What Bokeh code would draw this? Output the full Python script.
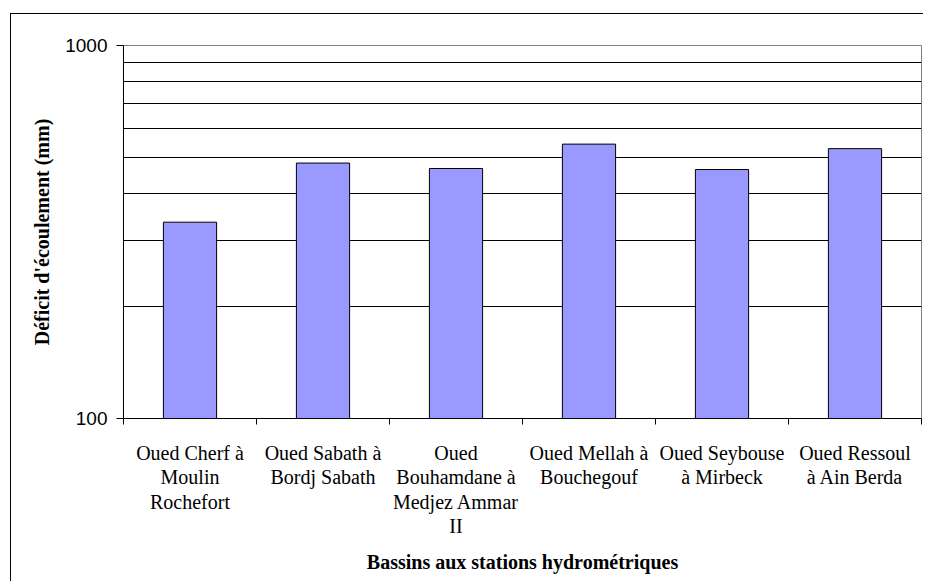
from bokeh.plotting import figure
from bokeh.models import (Range1d, FixedTicker, PrintfTickFormatter,
                          ColumnDataSource)
from bokeh.embed import file_html
from bokeh.resources import INLINE

categories = [
    "Oued Cherf à\nMoulin\nRochefort",
    "Oued Sabath à\nBordj Sabath",
    "Oued\nBouhamdane à\nMedjez Ammar\nII",
    "Oued Mellah à\nBouchegouf",
    "Oued Seybouse\nà Mirbeck",
    "Oued Ressoul\nà Ain Berda",
]
deficit_mm = [336, 484, 468, 544, 465, 529]
y_major_ticks = [100, 1000]
y_minor_ticks = [200, 300, 400, 500, 600, 700, 800, 900]
x_title = "Bassins aux stations hydrométriques"
y_title = "Déficit d'écoulement (mm)"

n = len(categories)
y_min, y_max = y_major_ticks[0], y_major_ticks[-1]
centers = [i + 0.5 for i in range(n)]
edges = list(range(n + 1))

SERIF = "'Liberation Serif', 'Times New Roman', serif"
SANS = "'Liberation Sans', Arial, sans-serif"

p = figure(
    width=913, height=568,
    x_range=Range1d(0, n),
    y_range=Range1d(y_min, y_max),
    y_axis_type="log",
    output_backend="svg",
    toolbar_location=None,
    min_border_left=112, min_border_right=3,
    min_border_top=31, min_border_bottom=164,
)
p.styles = {"border-left": "1px solid black", "border-top": "1px solid black",
            "position": "relative", "left": "10px", "top": "13px"}

src = ColumnDataSource(dict(x=centers, val=deficit_mm, base=[y_min] * n))
p.vbar(x="x", top="val", bottom="base", width=0.4, source=src,
       fill_color="#9999FF", line_color="black", line_width=1)

# y axis
yax = p.yaxis[0]
yax.ticker = FixedTicker(ticks=y_major_ticks, minor_ticks=y_minor_ticks)
yax.formatter = PrintfTickFormatter(format="%d")
yax.axis_line_color = "black"
yax.major_tick_out = 7
yax.major_tick_in = 0
yax.minor_tick_line_color = None
yax.major_label_text_font = SANS
yax.major_label_text_font_size = "19px"
yax.major_label_text_color = "black"
yax.major_label_standoff = 9
yax.axis_label = y_title
yax.axis_label_text_font = SERIF
yax.axis_label_text_font_style = "bold"
yax.axis_label_text_font_size = "20px"
yax.axis_label_text_color = "black"
yax.axis_label_standoff = 9

# x axis: labels at centres, ticks at category edges
xax = p.xaxis[0]
xax.ticker = FixedTicker(ticks=centers, minor_ticks=edges)
xax.major_label_overrides = {c: lab for c, lab in zip(centers, categories)}
xax.axis_line_color = "black"
xax.major_tick_line_color = None
xax.major_tick_out = 6
xax.major_tick_in = 0
xax.minor_tick_line_color = "black"
xax.minor_tick_out = 6
xax.minor_tick_in = 0
xax.major_label_text_font = SERIF
xax.major_label_text_font_size = "20px"
xax.major_label_text_line_height = 1.12
xax.major_label_text_color = "black"
xax.major_label_standoff = 17
xax.axis_label = x_title
xax.axis_label_text_font = SERIF
xax.axis_label_text_font_style = "bold"
xax.axis_label_text_font_size = "20px"
xax.axis_label_text_color = "black"
xax.axis_label_standoff = 11

# grid
p.xgrid.grid_line_color = None
p.ygrid.grid_line_color = "black"
p.ygrid.grid_line_width = 1
p.ygrid.minor_grid_line_color = "black"
p.ygrid.minor_grid_line_width = 1
p.ygrid.ticker = yax.ticker

p.outline_line_color = "#808080"
p.outline_line_width = 1
p.background_fill_color = "white"
p.border_fill_color = "white"

open("out.html", "w").write(file_html(p, INLINE))
